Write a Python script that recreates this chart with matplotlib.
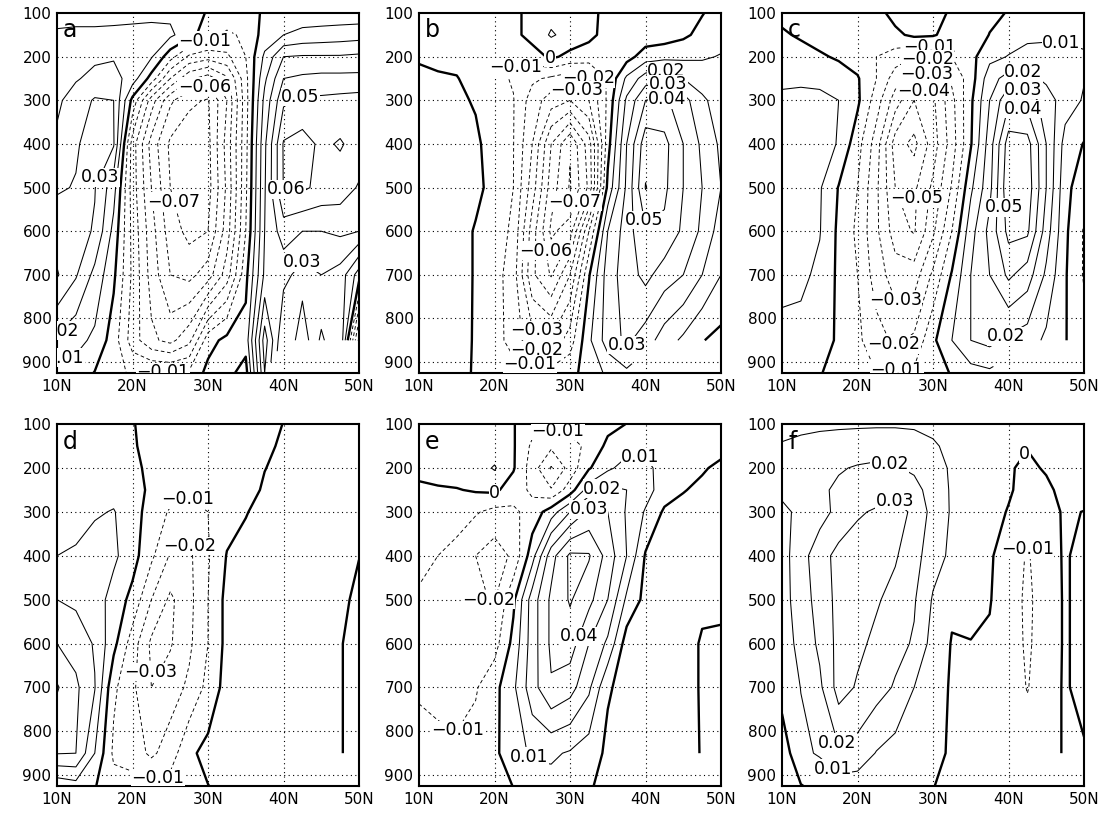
import numpy as np
import matplotlib.pyplot as plt

nan = np.nan

# latitude (deg N) and pressure (hPa) of the grid
lats = [10, 12.5, 15, 17.5, 20, 22.5, 25, 27.5, 30, 32.5, 35, 37.5, 40, 42.5, 45, 47.5, 50]
levs = [100, 150, 200, 250, 300, 400, 500, 600, 700, 850, 925]

# values, in units of 0.01, one row per pressure level
panel_a = [
    [0.5, 0.5, 0.5, 0.6, 0.6, 0.7, 0.8, 0.5, -0.1, -0.3, -0.3, 0.1, 0.3, 0.4, 0.4, 0.4, 0.4],
    [1.2, 1.3, 1.3, 1.3, 1.4, 1.4, 1.2, 0.4, -0.6, -1.2, -0.8, 0.4, 1.0, 1.3, 1.4, 1.5, 1.6],
    [1.3, 1.5, 1.8, 1.9, 1.7, 1.1, -0.6, -2.2, -2.6, -2.2, -1.0, 1.2, 3.0, 3.1, 3.1, 3.1, 3.2],
    [1.6, 1.9, 2.3, 2.4, 1.5, -0.4, -3.0, -4.8, -5.5, -4.2, -1.3, 1.8, 4.0, 4.2, 4.3, 4.3, 4.3],
    [1.8, 2.5, 3.1, 3.0, -0.3, -3.5, -5.8, -6.8, -7.1, -5.0, -1.4, 2.3, 4.8, 5.2, 5.2, 5.3, 5.4],
    [2.2, 2.9, 3.4, 3.1, -2.5, -5.4, -7.2, -7.6, -7.3, -4.6, -1.3, 2.8, 6.1, 6.4, 5.8, 6.1, 5.6],
    [2.9, 3.05, 3.05, 1.4, -2.5, -5.0, -7.0, -7.7, -7.4, -4.8, -1.2, 2.9, 6.05, 6.2, 5.7, 5.5, 4.9],
    [3.5, 3.4, 2.9, 0.7, -2.3, -4.6, -6.5, -7.3, -7.0, -4.5, -1.0, 3.0, 4.5, 4.0, 4.0, 4.2, 4.0],
    [4.1, 3.1, 1.7, 0.2, -2.2, -4.4, -6.0, -6.3, -5.5, -3.5, -0.3, 3.2, 3.3, 2.6, 3.0, 2.6, 0.5],
    [1.8, 1.3, 0.8, -0.5, -2.5, -3.8, -4.3, -3.3, -0.4, 0.3, 0.4, 5.5, 2.0, 3.6, 1.8, 3.0, -4.5],
    [0.5, 0.6, -0.05, -0.8, -1.1, -0.9, -0.9, -0.8, 0.3, 0.3, -0.4, 5.0, nan, nan, nan, nan, nan],
]

panel_b = [
    [-0.3, -0.3, -0.3, -0.3, -0.3, -0.3, 0.4, 0.7, 0.6, 0.3, -0.3, -0.5, -0.5, -0.4, -0.3, -0.05, 0.4],
    [-0.3, -0.3, -0.3, -0.3, -0.4, -0.3, 0.4, 1.1, 0.7, 0.3, -0.4, -0.6, -0.6, -0.5, -0.2, 0.3, 0.7],
    [-0.1, -0.2, -0.3, -0.4, -0.6, -0.9, -0.5, 0.2, -0.3, -0.6, -0.9, -0.4, 0.5, 0.7, 0.8, 0.9, 1.05],
    [0.2, 0.1, 0.05, -0.4, -0.7, -1.1, -1.8, -2.2, -2.6, -2.0, -0.9, 1.2, 2.5, 2.8, 2.0, 1.5, 1.2],
    [0.3, 0.3, 0.2, -0.1, -0.6, -0.95, -2.5, -3.5, -4.0, -3.0, -0.8, 2.2, 4.0, 4.2, 3.4, 2.2, 1.5],
    [0.4, 0.5, 0.5, 0.2, -0.5, -0.97, -3.0, -6.0, -7.9, -5.5, -0.4, 3.0, 5.6, 5.3, 4.0, 2.8, 1.8],
    [0.4, 0.5, 0.5, 0.3, -0.4, -1.0, -3.5, -6.5, -8.1, -5.8, 0.3, 3.2, 6.05, 5.2, 4.0, 3.0, 2.0],
    [0.4, 0.5, 0.5, -0.1, -0.5, -1.2, -4.5, -7.2, -6.5, -2.0, 2.0, 3.5, 4.9, 4.8, 3.8, 2.8, 1.5],
    [0.4, 0.5, 0.5, -0.1, -0.6, -1.5, -4.8, -6.1, -4.0, -0.1, 2.5, 3.5, 4.3, 3.5, 3.0, 2.0, 1.0],
    [0.4, 0.5, 0.4, -0.1, -0.5, -1.5, -2.6, -2.8, -1.5, 0.8, 2.5, 3.2, 2.5, 1.5, 0.8, 0.05, -0.3],
    [0.4, 0.4, 0.3, -0.1, -0.4, -0.5, -0.5, -0.6, -0.3, 0.4, 1.2, 1.8, nan, nan, nan, nan, nan],
]

panel_c = [
    [-0.2, -0.3, -0.3, -0.3, -0.3, -0.3, 0.3, 0.6, 0.5, -0.2, -0.6, -0.4, 0.1, 0.4, 0.5, 0.6, 0.6],
    [0.1, -0.1, -0.3, -0.4, -0.4, -0.4, -0.2, 0.2, 0.1, -0.4, -1.0, 0.05, 0.5, 0.8, 0.9, 0.9, 0.8],
    [0.4, 0.3, 0.1, -0.1, -0.5, -1.0, -1.5, -2.0, -1.8, -1.0, -0.3, 0.7, 1.05, 1.3, 1.2, 1.15, 1.1],
    [0.8, 0.8, 0.7, 0.4, 0.1, -1.0, -2.5, -3.5, -3.2, -1.8, -0.5, 1.6, 2.4, 2.3, 1.8, 1.3, 1.05],
    [1.2, 1.3, 1.3, 1.0, 0.2, -1.5, -3.5, -5.0, -4.2, -2.3, -0.2, 2.0, 3.8, 3.6, 2.5, 1.5, 0.9],
    [1.4, 1.5, 1.6, 0.9, -0.6, -2.5, -5.5, -6.3, -4.5, -2.5, -0.1, 2.5, 5.5, 5.4, 3.0, 0.6, -0.05],
    [1.3, 1.3, 1.1, -0.05, -1.0, -2.8, -5.0, -5.2, -3.8, -1.9, 0.8, 2.7, 5.8, 5.6, 3.0, 0.3, -0.6],
    [1.3, 1.2, 1.05, -0.2, -1.2, -2.8, -4.5, -5.1, -3.2, -1.0, 1.6, 3.3, 5.3, 5.2, 2.5, 0.2, -1.1],
    [1.15, 1.2, 0.8, -0.2, -1.0, -2.5, -3.5, -3.5, -1.8, 0.1, 2.0, 3.0, 4.2, 3.5, 1.8, 0.1, -1.1],
    [0.85, 0.7, 0.6, -0.2, -0.8, -1.6, -2.2, -1.8, -0.2, 1.0, 2.0, 2.3, 1.8, 1.5, 0.8, 0.05, -0.6],
    [0.5, 0.6, 0.05, -0.3, -0.6, -1.0, -0.9, -0.8, -0.3, 0.05, 0.6, 0.8, nan, nan, nan, nan, nan],
]

panel_d = [
    [0.3, 0.3, 0.2, 0.1, 0.05, -0.3, -0.3, -0.3, -0.3, -0.3, -0.3, -0.3, 0.02, 0.3, 0.3, 0.3, 0.3],
    [0.4, 0.4, 0.4, 0.2, 0.1, -0.3, -0.4, -0.4, -0.4, -0.3, -0.3, -0.2, 0.15, 0.3, 0.3, 0.3, 0.3],
    [0.5, 0.5, 0.6, 0.4, 0.3, -0.3, -0.5, -0.6, -0.5, -0.2, -0.3, -0.02, 0.2, 0.3, 0.3, 0.3, 0.3],
    [0.6, 0.7, 0.8, 0.7, 0.4, -0.2, -0.6, -0.8, -0.6, -0.4, -0.3, 0.1, 0.3, 0.3, 0.3, 0.3, 0.3],
    [0.8, 0.7, 0.9, 1.05, 0.5, -0.5, -1.1, -1.3, -1.0, -0.4, -0.05, 0.3, 0.3, 0.3, 0.3, 0.3, 0.2],
    [1.0, 1.1, 1.4, 1.2, 0.4, -0.8, -2.1, -2.2, -1.1, 0.05, 0.3, 0.4, 0.4, 0.3, 0.3, 0.2, 0.02],
    [2.0, 1.8, 1.5, 0.6, -0.3, -2.0, -3.2, -2.3, -1.0, 0.3, 0.4, 0.4, 0.4, 0.3, 0.3, 0.2, -0.2],
    [3.0, 2.6, 1.9, 0.3, -1.5, -3.2, -3.1, -2.2, -1.0, 0.3, 0.4, 0.4, 0.4, 0.3, 0.3, 0.05, -0.3],
    [4.1, 3.2, 2.05, -0.8, -1.8, -3.0, -2.5, -1.8, -0.7, 0.4, 0.5, 0.5, 0.4, 0.3, 0.3, 0.05, -0.3],
    [3.05, 3.0, 1.0, -1.2, -1.5, -2.2, -1.5, -0.2, 0.3, 0.5, 0.5, 0.5, 0.4, 0.3, 0.3, 0.05, -0.3],
    [0.3, 0.6, 0.05, -0.6, -0.6, -0.8, -0.6, -0.4, -0.02, 0.3, 0.4, 0.4, nan, nan, nan, nan, nan],
]

panel_e = [
    [0.3, 0.3, 0.3, 0.3, 0.3, 0.05, -0.6, -0.8, -0.7, -0.6, -0.3, 0.02, 0.4, 0.6, 0.6, 0.5, 0.4],
    [0.4, 0.4, 0.4, 0.4, 0.4, 0.1, -1.2, -1.8, -1.3, -0.8, 0.25, 0.6, 0.8, 0.7, 0.6, 0.5, 0.3],
    [0.3, 0.4, 0.5, 0.5, 1.1, 0.1, -1.5, -3.1, -1.6, -0.1, 0.8, 1.4, 1.2, 0.7, 0.4, 0.1, -0.2],
    [-0.2, -0.1, -0.05, 0.1, 0.2, -0.5, -1.2, -1.9, -0.5, 1.5, 2.3, 2.0, 1.4, 0.5, 0.05, -0.2, -0.3],
    [-0.4, -0.5, -0.6, -0.9, -1.3, -1.2, -0.6, 0.5, 2.0, 3.2, 3.0, 1.9, 0.9, -0.15, -0.3, -0.3, -0.3],
    [-0.8, -1.0, -1.3, -2.0, -2.5, -1.8, 0.6, 3.6, 5.2, 5.1, 3.6, 2.0, -0.1, -0.4, -0.3, -0.2, -0.1],
    [-1.1, -1.2, -1.4, -1.9, -2.05, -0.2, 2.5, 4.2, 5.1, 4.3, 3.0, 0.8, -0.3, -0.3, -0.2, -0.1, -0.2],
    [-1.2, -1.2, -1.3, -1.5, -1.4, 0.3, 2.5, 4.2, 4.5, 3.0, 1.8, -0.5, -0.3, -0.3, -0.2, 0.05, 0.15],
    [-1.1, -1.2, -1.2, -1.1, -0.3, 0.8, 2.6, 3.9, 3.4, 2.2, 0.1, -0.3, -0.3, -0.3, -0.2, 0.05, 0.2],
    [-0.7, -0.8, -0.9, -0.6, -0.2, 0.6, 1.15, 1.15, 0.9, 0.5, -0.2, -0.2, -0.3, -0.3, -0.3, 0.05, 0.1],
    [-0.4, -0.5, -0.5, -0.4, -0.4, 0.02, 0.5, 0.7, 0.6, 0.1, -0.3, -0.2, nan, nan, nan, nan, nan],
]

panel_f = [
    [0.8, 0.9, 0.9, 0.9, 0.9, 0.9, 0.9, 0.9, 0.8, 0.6, 0.4, 0.3, 0.2, 0.1, 0.2, 0.3, 0.4],
    [1.05, 1.1, 1.2, 1.3, 1.4, 1.5, 1.5, 1.3, 1.1, 0.8, 0.5, 0.3, 0.2, 0.05, 0.1, 0.3, 0.5],
    [1.2, 1.4, 1.7, 1.9, 2.1, 2.2, 2.1, 1.8, 1.3, 0.9, 0.5, 0.3, 0.1, -0.2, 0.1, 0.3, 0.4],
    [1.1, 1.5, 1.8, 2.2, 2.4, 2.6, 2.8, 2.4, 1.5, 0.9, 0.5, 0.3, 0.1, -0.3, -0.2, 0.3, 0.4],
    [0.9, 1.1, 1.6, 2.3, 2.9, 3.1, 3.2, 2.9, 1.6, 0.9, 0.5, 0.3, -0.05, -0.4, -0.3, 0.1, -0.02],
    [0.6, 1.6, 2.6, 3.3, 3.4, 3.4, 3.1, 2.4, 1.4, 0.8, 0.5, 0.1, -0.4, -1.1, -0.4, 0.1, -0.3],
    [0.6, 1.5, 2.4, 3.3, 3.3, 3.1, 2.7, 2.1, 0.9, 0.15, 0.3, 0.05, -0.5, -1.2, -0.5, 0.1, -0.3],
    [0.5, 1.3, 2.2, 3.3, 3.2, 2.8, 2.3, 1.9, 0.6, -0.05, -0.03, -0.1, -0.5, -1.15, -0.5, 0.1, -0.3],
    [0.4, 1.02, 1.8, 3.4, 2.9, 2.4, 1.9, 1.0, 0.4, -0.1, -0.2, -0.2, -0.4, -1.05, -0.4, 0.1, -0.3],
    [-0.6, 0.8, 1.1, 1.85, 1.6, 0.95, 0.6, 0.4, 0.2, -0.1, -0.2, -0.2, -0.3, -0.5, -0.2, 0.05, 0.1],
    [-0.6, -0.05, 0.3, 0.5, 0.5, 0.4, 0.3, 0.2, 0.02, -0.2, -0.3, -0.3, nan, nan, nan, nan, nan],
]

panels = [("a", panel_a), ("b", panel_b), ("c", panel_c),
          ("d", panel_d), ("e", panel_e), ("f", panel_f)]

# where the contour labels sit (lat, hPa), as in the original: negative,
# positive and zero contours
label_spots = {
    "a": ([(29.5, 160), (29.5, 268), (26.5, 528), (24, 912)],
          [(42, 284), (14.5, 467), (40.3, 505), (42, 660), (11, 837), (11, 885)],
          []),
    "b": ([(22.6, 197), (32.6, 239), (30.5, 285), (29.6, 528), (27.4, 643),
           (25.6, 828), (25.6, 872), (24.7, 905)],
          [(43, 222), (43, 262), (43, 295), (39.7, 575), (37.3, 870)],
          [(27.3, 205)]),
    "c": ([(29.6, 183), (29.2, 212), (29.2, 240), (29.2, 266), (27.4, 524),
           (25, 760), (25, 855), (25, 900)],
          [(47, 167), (42, 232), (42, 268), (42, 313), (39.5, 545), (39.3, 830)],
          []),
    "d": ([(27, 260), (27.1, 345), (22.5, 665), (23.2, 900)],
          [],
          []),
    "e": ([(28.2, 125), (18.1, 505), (15, 797)],
          [(39.3, 190), (34.4, 250), (32.2, 288), (29.6, 573), (24.3, 862)],
          [(20, 265)]),
    "f": ([(42, 340)],
          [(24.3, 185), (24.7, 262), (17, 828), (17, 880)],
          [(42.3, 170)]),
}

x_ticks = [10, 20, 30, 40, 50]
x_labels = ["10N", "20N", "30N", "40N", "50N"]
y_ticks = [100, 200, 300, 400, 500, 600, 700, 800, 900]

MINUS = "\u2212"


def fmt(v):
    if abs(v) < 1e-9:
        return "0"
    s = "%.2f" % v
    return s.replace("-", MINUS)


def add_labels(ax, cs, spots):
    # GrADS style: upright labels on a white patch
    if not spots:
        return
    texts = ax.clabel(cs, fmt=fmt, fontsize=12.5, inline=False, manual=spots)
    for t in texts:
        t.set_rotation(0)
        t.set_bbox(dict(facecolor="white", edgecolor="none", pad=0.2))
        t.set_zorder(5)


def draw_panel(ax, letter, rows):
    z = np.ma.masked_invalid(np.array(rows) * 0.01)
    neg = [round(-0.01 * k, 2) for k in range(9, 0, -1)]
    pos = [round(0.01 * k, 2) for k in range(1, 10)]

    cn = ax.contour(lats, levs, z, levels=neg, colors="black",
                    linewidths=0.65, linestyles=[(0, (4, 3))])
    cp = ax.contour(lats, levs, z, levels=pos, colors="black",
                    linewidths=0.75, linestyles="solid")
    c0 = ax.contour(lats, levs, z, levels=[0.0], colors="black",
                    linewidths=1.7, linestyles="solid")
    neg_spots, pos_spots, zero_spots = label_spots[letter]
    add_labels(ax, cn, neg_spots)
    add_labels(ax, cp, pos_spots)
    add_labels(ax, c0, zero_spots)

    ax.set_xlim(10, 50)
    ax.set_ylim(925, 100)
    ax.set_xticks(x_ticks)
    ax.set_xticklabels(x_labels)
    ax.set_yticks(y_ticks)
    ax.tick_params(length=0, labelsize=11, pad=4)
    for x in x_ticks[1:-1]:
        ax.axvline(x, color="black", lw=0.8, ls=(0, (1, 3)))
    for y in y_ticks[1:]:
        ax.axhline(y, color="black", lw=0.8, ls=(0, (1, 3)))
    for sp in ax.spines.values():
        sp.set_linewidth(1.5)
    ax.text(0.02, 0.985, letter, transform=ax.transAxes, fontsize=17,
            ha="left", va="top", zorder=6)


fig = plt.figure(figsize=(11.05, 8.18), dpi=100)
lefts = [0.0516, 0.3792, 0.7077]
width = 0.2733
rows_pos = [(0.544, 0.440), (0.039, 0.4425)]

for i, (letter, rows) in enumerate(panels):
    bottom, height = rows_pos[i // 3]
    ax = fig.add_axes([lefts[i % 3], bottom, width, height])
    draw_panel(ax, letter, rows)

fig.savefig("out.png", dpi=100)
